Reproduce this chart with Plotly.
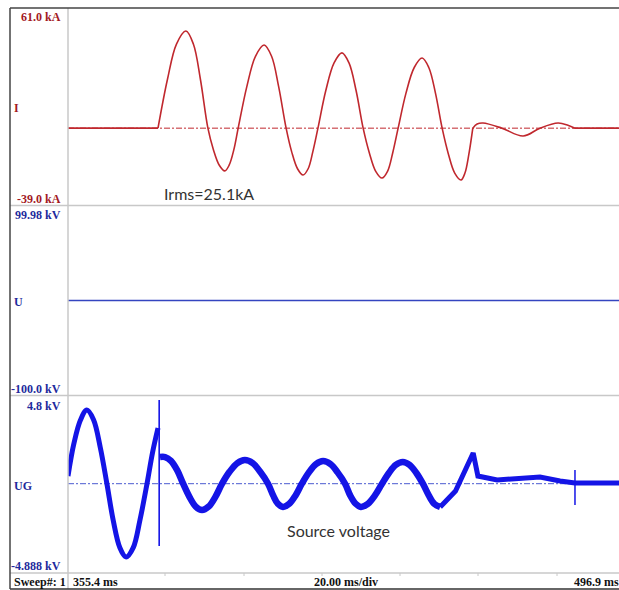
import plotly.graph_objects as go

W, H = 619, 590

# ---------------- data (time in ms) ----------------
T_START, T_END = 355.4, 496.9
T_VIEW_END = 495.6

# Current I (kA)
i_flat_t = [355.4, 378.3]
i_flat_v = [0, 0]
i_osc_t = [378.3, 380.7, 383.0, 385.4, 387.3, 389.1, 391.0,
           392.4, 393.9, 395.3, 396.4, 397.6, 398.7,
           400.9, 403.1, 405.3, 407.2, 409.0, 410.9,
           412.3, 413.8, 415.2, 416.5, 417.7, 419.0,
           421.0, 423.1, 425.1, 426.9, 428.7, 430.5,
           432.1, 433.7, 435.3, 436.7, 438.0, 439.4,
           441.4, 443.5, 445.5, 447.2, 448.9, 450.6,
           452.2, 453.8, 455.4, 456.4, 457.4, 458.4]
i_osc_v = [0, 24.7, 42.7, 49.3, 42.7, 24.7, 0,
           -10.9, -18.8, -21.7, -18.8, -10.9, 0,
           21.1, 36.5, 42.2, 36.5, 21.1, 0,
           -11.9, -20.6, -23.8, -20.6, -11.9, 0,
           19.1, 33.1, 38.2, 33.1, 19.1, 0,
           -12.7, -21.9, -25.3, -21.9, -12.7, 0,
           17.8, 30.8, 35.6, 30.8, 17.8, 0,
           -13.2, -22.8, -26.3, -22.8, -13.2, 0]
i_tail_t = [458.4, 459.5, 461.0, 465.8, 471.2, 475.5, 480.1, 482.6, 484.4]
i_tail_v = [0, 2.1, 2.6, 0, -4.0, 0, 2.6, 1.5, 0]
i_end_t = [484.4, 496.9]
i_end_v = [0, 0]

# Voltage U (kV)
u_t = [355.4, 496.9]
u_v = [0, 0]

# Source voltage UG (kV)
ug_pre_t = [355.4, 356.9, 358.6, 360.2, 361.9, 363.6, 365.3,
            366.9, 368.6, 370.2, 372.0, 373.7, 375.5, 376.9, 378.3]
ug_pre_v = [0.42, 2.2, 3.5, 4.03, 3.5, 2.0, 0,
            -2.0, -3.5, -4.01, -3.5, -2.0, 0, 1.7, 3.05]
ug_spike_t = [378.6, 378.6]
ug_spike_v = [4.58, -3.41]
ug_mid_t = [378.8, 380.1, 381.6, 383.2, 384.7,
            386.3, 387.9, 389.5, 391.2, 392.9, 394.6,
            396.5, 398.5, 400.4, 402.4, 404.3, 406.3,
            407.6, 408.8, 410.1, 411.7, 413.3, 414.9,
            416.7, 418.5, 420.3, 422.2, 424.0, 425.9,
            427.2, 428.6, 429.9, 431.7, 433.5, 435.3,
            437.1, 438.8, 440.6, 442.3, 444.0, 445.7,
            447.2, 448.6, 450.1]
ug_mid_v = [1.46, 1.46, 1.25, 0.73, 0,
            -0.72, -1.25, -1.44, -1.25, -0.72, 0,
            0.65, 1.13, 1.30, 1.13, 0.65, 0,
            -0.64, -1.10, -1.27, -1.10, -0.64, 0,
            0.62, 1.07, 1.24, 1.07, 0.62, 0,
            -0.64, -1.10, -1.27, -1.10, -0.64, 0,
            0.60, 1.03, 1.19, 1.03, 0.60, 0,
            -0.64, -1.10, -1.27]
ug_post_t = [450.1, 454.0, 458.5, 459.7, 464.6, 470.0, 475.5, 480.6, 484.4, 496.9]
ug_post_v = [-1.27, -0.4, 1.68, 0.42, 0.20, 0.28, 0.37, 0.15, 0.04, 0.04]
ug_spike2_t = [484.4, 484.4]
ug_spike2_v = [0.75, -1.17]

# axis ranges / labels
i_range = [-39.0, 61.0]
u_range = [-100.0, 99.98]
ug_range = [-4.888, 4.8]
i_labels = ["61.0 kA", "I", "-39.0 kA"]
u_labels = ["99.98 kV", "U", "-100.0 kV"]
ug_labels = ["4.8 kV", "UG", "-4.888 kV"]
footer = ["Sweep#: 1", "355.4 ms", "20.00 ms/div", "496.9 ms"]
notes = ["Irms=25.1kA", "Source voltage"]

# ---------------- helpers ----------------
def px(x):
    return x / W

def py(y):
    return 1 - y / H

RED = "#c0282e"
RED_TXT = "#a3191f"
BLUE_LINE = "#3445c0"
BLUE_BAND = "#1414e6"
BLUE_TXT = "#1e2a9c"
GRAY = "#c8c8c8"

fig = go.Figure()

def add(t, v, ax, color, width, shape="linear", dash=None):
    ln = dict(color=color, width=width, shape=shape)
    if shape == "spline":
        ln["smoothing"] = 1.0
    if dash:
        ln["dash"] = dash
    fig.add_trace(go.Scatter(x=t, y=v, mode="lines", xaxis=ax[0], yaxis=ax[1],
                             line=ln, hoverinfo="skip", showlegend=False))

A1 = ("x", "y")
A2 = ("x2", "y2")
A3 = ("x3", "y3")

# baselines
add([T_START, T_END], [0, 0], A1, RED, 1, dash="6px,2px,2px,2px")
add([T_START, T_END], [0, 0], A3, "#4a5bd0", 1, dash="6px,2px,2px,2px")

add(i_flat_t, i_flat_v, A1, RED, 1.6)
add(i_osc_t, i_osc_v, A1, RED, 1.6, "spline")
add(i_tail_t, i_tail_v, A1, RED, 1.6, "spline")
add(i_end_t, i_end_v, A1, RED, 1.6)

add(u_t, u_v, A2, BLUE_LINE, 1.6)

add(ug_pre_t, ug_pre_v, A3, BLUE_BAND, 5, "spline")
add(ug_spike_t, ug_spike_v, A3, BLUE_BAND, 1.6)
add(ug_mid_t, ug_mid_v, A3, BLUE_BAND, 6.5, "spline")
add(ug_post_t, ug_post_v, A3, BLUE_BAND, 5)
add(ug_spike2_t, ug_spike2_v, A3, BLUE_BAND, 1.5)

xdom = [px(68), 1]
xcommon = dict(domain=xdom, range=[T_START, T_VIEW_END], visible=False, fixedrange=True)
fig.update_layout(
    width=W, height=H, margin=dict(l=0, r=0, t=0, b=0),
    paper_bgcolor="white", plot_bgcolor="white",
    xaxis=dict(**xcommon, anchor="y"),
    xaxis2=dict(**xcommon, anchor="y2"),
    xaxis3=dict(**xcommon, anchor="y3"),
    yaxis=dict(domain=[py(205), py(8)], range=i_range, visible=False, anchor="x"),
    yaxis2=dict(domain=[py(395), py(206)], range=u_range, visible=False, anchor="x2"),
    yaxis3=dict(domain=[py(573), py(396)], range=ug_range, visible=False, anchor="x3"),
)

# frame lines
def line(x0, y0, x1, y1, color, width):
    fig.add_shape(type="line", xref="paper", yref="paper",
                  x0=px(x0), y0=py(y0), x1=px(x1), y1=py(y1),
                  line=dict(color=color, width=width), layer="above")

line(68, 8, 68, 589, GRAY, 1.5)
for yy in (205.5, 395.5, 573):
    line(10, yy, 619, yy, GRAY, 1.5)
for xx in (165, 244, 322, 400, 478, 557):
    line(xx, 573, xx, 576, GRAY, 1)
line(10, 8, 619, 8, "#444444", 1.5)
line(10, 589, 619, 589, "#333333", 1.5)
line(10, 8, 10, 589, "#444444", 1.5)

SERIF = "Liberation Serif"

def ann(text, x, y, color, xanchor="right", size=12, family=SERIF, bold=True):
    t = f"<b>{text}</b>" if bold else text
    fig.add_annotation(text=t, xref="paper", yref="paper", x=px(x), y=py(y),
                       xanchor=xanchor, yanchor="middle", showarrow=False,
                       font=dict(family=family, size=size, color=color))

ann(i_labels[0], 63, 17, RED_TXT)
ann(i_labels[1], 12, 108, RED_TXT, "left")
ann(i_labels[2], 63, 199, RED_TXT)
ann(u_labels[0], 63, 215, BLUE_TXT)
ann(u_labels[1], 12, 302, BLUE_TXT, "left")
ann(u_labels[2], 63, 389, BLUE_TXT)
ann(ug_labels[0], 63, 406, BLUE_TXT)
ann(ug_labels[1], 12, 486, BLUE_TXT, "left")
ann(ug_labels[2], 63, 566, BLUE_TXT)

ann(footer[0], 12, 582, "#111111", "left")
ann(footer[1], 71, 582, "#111111", "left")
ann(footer[2], 346, 582, "#111111", "center")
ann(footer[3], 572, 582, "#111111", "left")

ann(notes[0], 209, 194, "#333333", "center", size=16, family="Lato", bold=False)
ann(notes[1], 338, 530, "#333333", "center", size=16, family="Lato", bold=False)

fig.write_html("out.html")
